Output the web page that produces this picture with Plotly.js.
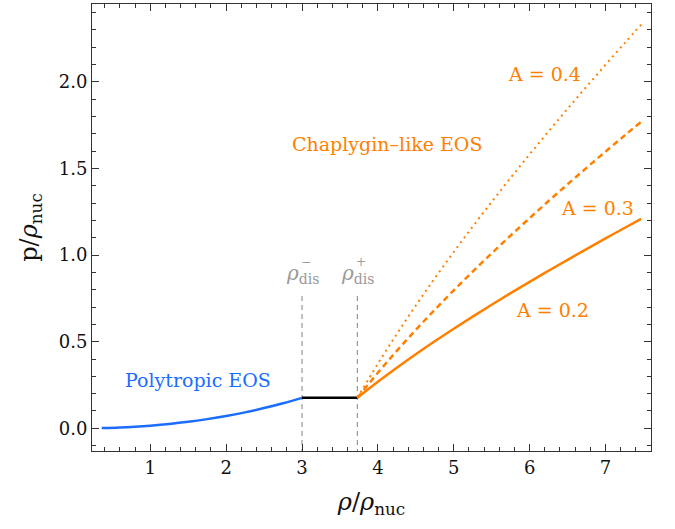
<!DOCTYPE html>
<html><head><meta charset="utf-8">
<script src="https://cdn.plot.ly/plotly-3.0.1.min.js"></script>
<style>html,body{margin:0;padding:0;background:#fff}#chart{width:675px;height:529px}</style>
</head><body><div id="chart"></div>
<script>
// Polytropic branch
const rhoPoly = [0.36, 0.6, 0.8, 1.0, 1.25, 1.5, 1.75, 2.0, 2.25, 2.5, 2.75, 3.0];
const pPoly   = [0.0017, 0.005, 0.0095, 0.0155, 0.025, 0.0375, 0.053, 0.071, 0.092, 0.117, 0.145, 0.176];
// Phase transition plateau
const rhoPlateau = [3.0, 3.73];
const pPlateau   = [0.176, 0.176];
// Discontinuity markers
const rhoDis = [3.0, 3.73];
const disSigns = ['−', '+'];
// Chaplygin-like branch
const rhoChap = [3.73, 4.0, 4.25, 4.5, 4.75, 5.0, 5.25, 5.5, 5.75, 6.0, 6.25, 6.5, 6.75, 7.0, 7.25, 7.47];
const pA02 = [0.176, 0.2685, 0.3498, 0.4276, 0.5024, 0.5748, 0.645, 0.7135, 0.7803, 0.8457, 0.9098, 0.9729, 1.035, 1.0963, 1.1568, 1.2094];
const pA03 = [0.176, 0.3207, 0.4475, 0.5684, 0.6846, 0.7966, 0.9051, 1.0105, 1.1133, 1.2138, 1.3123, 1.4089, 1.504, 1.5976, 1.6899, 1.7702];
const pA04 = [0.176, 0.3727, 0.5449, 0.7091, 0.8665, 1.0182, 1.165, 1.3075, 1.4463, 1.5818, 1.7146, 1.8448, 1.9727, 2.0987, 2.2229, 2.3308];
const xTicks = [1, 2, 3, 4, 5, 6, 7];
const yTicks = [0, 0.5, 1.0, 1.5, 2.0];
const yTickText = ['0.0', '0.5', '1.0', '1.5', '2.0'];

const ORANGE = '#ff8000', BLUE = '#1a6dff', GRAY = '#999999';
const serif = "'DejaVu Serif', 'Liberation Serif', serif";

const traces = [
  {x: [rhoDis[0], rhoDis[0]], y: [-0.2, 0.78], mode: 'lines', line: {color: GRAY, width: 1.2, dash: '5px,4px'}},
  {x: [rhoDis[1], rhoDis[1]], y: [-0.2, 0.78], mode: 'lines', line: {color: GRAY, width: 1.2, dash: '5px,4px'}},
  {x: rhoPoly, y: pPoly, mode: 'lines', line: {color: BLUE, width: 2.5, shape: 'spline'}},
  {x: rhoPlateau, y: pPlateau, mode: 'lines', line: {color: '#000', width: 2.5}},
  {x: rhoChap, y: pA04, mode: 'lines', line: {color: ORANGE, width: 2, dash: '2px,4px', shape: 'spline'}},
  {x: rhoChap, y: pA03, mode: 'lines', line: {color: ORANGE, width: 2.5, dash: '6px,4px', shape: 'spline'}},
  {x: rhoChap, y: pA02, mode: 'lines', line: {color: ORANGE, width: 2.5, shape: 'spline'}}
];

const annFont = (c) => ({family: serif, size: 19, color: c});
const anns = [
  {x: 1.63, y: 0.28, text: 'Polytropic EOS', showarrow: false, font: annFont(BLUE)},
  {x: 4.12, y: 1.64, text: 'Chaplygin–like EOS', showarrow: false, font: annFont(ORANGE)},
  {x: 6.19, y: 2.043, text: 'A = 0.4', showarrow: false, font: annFont(ORANGE)},
  {x: 6.90, y: 1.27, text: 'A = 0.3', showarrow: false, font: annFont(ORANGE)},
  {x: 6.30, y: 0.682, text: 'A = 0.2', showarrow: false, font: annFont(ORANGE)}
];
rhoDis.forEach((r, i) => {
  anns.push({x: r, y: 0.89, text: '<i>ρ</i><sub>dis</sub>', showarrow: false,
    font: {family: serif, size: 20, color: GRAY}});
  anns.push({x: r, y: 0.89, text: disSigns[i], showarrow: false, xshift: 4, yshift: 12,
    font: {family: serif, size: 12, color: GRAY}});
});

const layout = {
  width: 675, height: 529,
  margin: {l: 92, r: 24, t: 4, b: 78},
  showlegend: false,
  paper_bgcolor: '#fff', plot_bgcolor: '#fff',
  xaxis: {
    range: [0.232, 7.60], tickvals: xTicks, ticktext: xTicks.map(String),
    ticks: 'inside', ticklen: 7, tickwidth: 1, tickcolor: '#333',
    minor: {dtick: 0.2, ticks: 'inside', ticklen: 4, tickcolor: '#333', tickwidth: 1, showgrid: false},
    showline: true, linecolor: '#333', linewidth: 1, mirror: 'ticks',
    showgrid: false, zeroline: false,
    tickfont: {family: serif, size: 18, color: '#111'},
    title: {text: '<i>ρ</i>/<i>ρ</i><sub>nuc</sub>', font: {family: serif, size: 24, color: '#111'}, standoff: 16}
  },
  yaxis: {
    range: [-0.131, 2.45], tickvals: yTicks, ticktext: yTickText,
    ticks: 'inside', ticklen: 7, tickwidth: 1, tickcolor: '#333',
    minor: {dtick: 0.1, ticks: 'inside', ticklen: 4, tickcolor: '#333', tickwidth: 1, showgrid: false},
    showline: true, linecolor: '#333', linewidth: 1, mirror: 'ticks',
    showgrid: false, zeroline: false,
    tickfont: {family: serif, size: 18, color: '#111'},
    title: {text: 'p/<i>ρ</i><sub>nuc</sub>', font: {family: serif, size: 24, color: '#111'}, standoff: 14}
  },
  annotations: anns
};
Plotly.newPlot('chart', traces, layout, {staticPlot: true, displayModeBar: false});
</script></body></html>
